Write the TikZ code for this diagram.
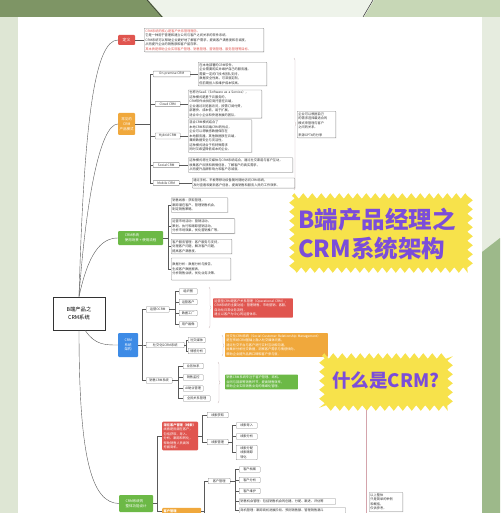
\documentclass[tikz,border=0pt]{standalone}
\usepackage{fontspec}
\setmainfont{Noto Sans CJK SC}
\usetikzlibrary{shadows,decorations.pathmorphing,decorations.pathreplacing}
\definecolor{bgDark}{HTML}{7E9565}
\definecolor{topGreen}{HTML}{C7D7B6}
\definecolor{topPale}{HTML}{EEF3EA}
\definecolor{sideGray}{HTML}{DEE6D4}
\definecolor{rightPale}{HTML}{E6ECDF}
\definecolor{rightGreen}{HTML}{9DB98A}
\definecolor{lineGray}{HTML}{5A5A5A}
\definecolor{boxGray}{HTML}{8A8A8A}
\definecolor{textGray}{HTML}{333333}
\definecolor{braceGray}{HTML}{C8B6B8}
\definecolor{crmRed}{HTML}{E0554F}
\definecolor{crmOrange}{HTML}{F0A83C}
\definecolor{crmGreen}{HTML}{6CB946}
\definecolor{crmBlue}{HTML}{3D8BE6}
\definecolor{burstYellow}{HTML}{F7E24B}
\definecolor{titlePurple}{HTML}{7B4DDA}
\definecolor{pinkLine}{HTML}{D4A4AC}
\newcommand{\smalltxt}{\fontsize{3.2}{4.5}\selectfont}
\newcommand{\hubtxt}{\fontsize{3.5}{4.7}\selectfont}
\begin{document}
\begin{tikzpicture}[x=1pt,y=-1pt]
\tikzstyle{link}=[draw=lineGray,line width=0.4pt]
\tikzstyle{lbl}=[draw=boxGray,fill=white,line width=0.35pt,rounded corners=0.5pt,inner sep=1.3pt,anchor=west,align=center,font=\smalltxt,text=textGray]
\tikzstyle{note}=[lbl,align=left,drop shadow={shadow xshift=0.7pt,shadow yshift=-0.7pt,opacity=0.25}]
\tikzstyle{cnote}=[lbl,align=left,draw=none,text=white]
\tikzstyle{hub}=[rounded corners=1pt,inner sep=1.5pt,anchor=west,text=white,font=\hubtxt]
\tikzstyle{burst}=[fill=burstYellow,decorate,decoration={zigzag,segment length=9pt,amplitude=2.8pt}]
\tikzstyle{brk}=[draw=braceGray,line width=0.4pt,decorate,decoration={brace,amplitude=2pt}]
\tikzstyle{title}=[text=titlePurple,font=\fontsize{23.5}{27}\selectfont\bfseries,inner sep=0pt]
\useasboundingbox (0,0) rectangle (500,513);

\fill[sideGray] (0,0) rectangle (500,513);
\fill[topGreen] (270,0) rectangle (500,17);
\fill[topPale] (148,0) -- (374,0) -- (364,17) -- (162,17) -- cycle;
\fill[bgDark] (0,0) -- (148,0) -- (163,17) -- (0,17) -- cycle;
\fill[rightPale] (482,17) rectangle (500,513);
\fill[rightGreen] (482,252) -- (500,238) -- (500,513) -- (482,513) -- cycle;
\draw[textGray,line width=0.5pt] (147,0) -- (162,17);
\draw[textGray,line width=0.5pt] (373,0) -- (363,17);
\fill[white] (18,17) rectangle (482,513);

\node[draw=black!80,line width=0.7pt,fill=white,minimum width=52pt,minimum height=33pt,align=center,font=\fontsize{5.3}{7.5}\selectfont] (root) at (79,313.5) {B端产品之\\CRM系统};

\node[hub,fill=crmRed,minimum width=17pt,minimum height=10pt,font=\fontsize{4}{5}\selectfont] (def) at (118,40) {定义};
\node[note,text width=117pt] (defTxt) at (144,40) {\textcolor{crmRed}{CRM系统的核心是客户关系管理理念。}\\
它是一种用于管理和建立公司与客户之间关系的软件系统。\\
CRM系统可以帮助企业更好地了解客户需求，提高客户满意度和忠诚度，\\
从而提升企业的销售额和客户留存率。\\
\textcolor{crmRed}{其本质是帮助企业实现客户管理、销售管理、营销管理、服务管理等目标。}};
\draw[link] (def.east) -- (defTxt.west);

\node[hub,fill=crmOrange,minimum width=17pt,minimum height=22pt,align=center] (mode) at (118,124) {常见的\\CRM\\产品模式};
\node[lbl,minimum width=37pt] (onp) at (153,74) {On-premise CRM};
\node[lbl,minimum width=25pt] (cloud) at (155,104) {Cloud CRM};
\node[lbl,minimum width=25pt] (hybrid) at (155,136) {Hybrid CRM};
\node[lbl,minimum width=26pt] (social) at (153,165) {Social CRM};
\node[lbl,minimum width=26pt] (mobile) at (153,183) {Mobile CRM};
\foreach \c in {onp,cloud,hybrid,social,mobile}
  \draw[link] (mode.east) -- ++(15,0) |- (\c.west);
\node[note,text width=66pt] (onpTxt) at (198,74) {在本地部署的CRM软件，\\
企业需要购买并维护自己的服务器，\\
需要一定的IT技术团队支持，\\
数据安全性高，可深度定制，\\
但前期投入和维护成本较高。};
\node[note,text width=71pt] (cloudTxt) at (188,104) {也称为SaaS（Software as a Service），\\
这种模式是基于云服务的，\\
CRM软件由供应商托管在云端，\\
企业通过浏览器访问，按需订阅付费，\\
部署快、成本低，易于扩展，\\
适合中小企业和快速发展的团队。};
\node[note,text width=61pt] (hybridTxt) at (188,136) {混合CRM模式结合了\\
本地CRM和云端CRM的优点，\\
企业可以将敏感数据保存在\\
本地服务器，其他数据放在云端，\\
兼顾数据安全与灵活性，\\
这种模式适合于有特殊需求\\
同时又希望降低成本的企业。};
\node[note,text width=102pt] (socialTxt) at (188,165) {这种模式将社交媒体与CRM系统结合，通过社交渠道与客户互动，\\
收集客户反馈和舆情信息，了解客户的真实需求，\\
从而提升品牌影响力和客户忠诚度。};
\node[note,text width=100pt] (mobileTxt) at (192,183) {通过手机、平板等移动设备随时随地访问CRM系统，\\
及时查看和更新客户信息，提高销售和服务人员的工作效率。};
\foreach \c in {onp,cloud,hybrid,social,mobile}
  \draw[link] (\c.east) -- (\c Txt.west);
\draw[brk] (294,58) -- (294,190);
\node[note,text width=36pt] (modeSum) at (297,124.5) {企业可以根据自己\\的需求选择最适合的\\模式来管理与客户\\之间的关系。\\[3pt]来源GPT4的分享};

\node[hub,fill=crmGreen,minimum width=45pt,minimum height=14pt,align=left] (scene) at (118,238) {CRM系统\\使用场景 + 使用流程};
\node[note,text width=54pt] (s1) at (171,205) {销售线索：获取管理，\\跟踪潜在客户、管理销售机会，\\制定销售策略。};
\node[note,text width=61pt] (s2) at (171,226) {运营市场活动：营销活动，\\策划、执行和跟踪营销活动，\\分析市场效果，优化营销推广等。};
\node[note,text width=58pt] (s3) at (171,246.5) {客户服务管理：客户服务与支持，\\处理客户问题，解决客户问题，\\提高客户满意度。};
\node[note,text width=57pt,minimum height=22pt] (s4) at (171,269) {数据分析：数据分析与报告，\\生成客户数据报表，\\分析销售业绩，优化业务决策。};
\foreach \c in {s1,s2,s3,s4}
  \draw[link] (scene.east) -- ++(5,0) |- (\c.west);

\node[hub,fill=crmBlue,minimum width=20pt,minimum height=24pt,align=center] (arch) at (118,345) {CRM\\系统\\架构};
\node[lbl,minimum width=23pt] (op) at (146,309.5) {运营OCRM};
\node[lbl,minimum width=38pt] (sc) at (146,345) {社交化SCRM系统};
\node[lbl,minimum width=26pt] (sale) at (146,380.5) {销售CRM系统};
\foreach \c in {op,sc,sale}
  \draw[link] (arch.east) -- ++(4,0) |- (\c.west);
\node[lbl,minimum width=18pt] (op1) at (179,291.5) {组织图};
\node[lbl,minimum width=18pt] (op2) at (179,302) {运营客户};
\node[lbl,minimum width=18pt] (op3) at (179,313) {数据工厂};
\node[lbl,minimum width=18pt] (op4) at (179,324.5) {用户画像};
\foreach \c in {op1,op2,op3,op4}
  \draw[link] (op.east) -- ++(6,0) |- (\c.west);
\draw[brk] (209,287) -- (209,328);
\node[cnote,fill=crmRed,text width=77pt] (opTxt) at (213,308) {运营型CRM是客户关系管理（Operational CRM），\\
CRM系统的主要功能：管理销售、市场营销、客服，\\
自动化日常业务流程，\\
建立以客户为中心的运营体系。};
\node[lbl,minimum width=17pt] (sc1) at (188,340) {社交媒体};
\node[lbl,minimum width=17pt] (sc2) at (188,351) {情感分析};
\foreach \c in {sc1,sc2}
  \draw[link] (sc.east) -- ++(2,0) |- (\c.west);
\draw[brk] (222,335) -- (222,356);
\node[cnote,fill=crmOrange,text width=100pt] (scTxt) at (225,345) {社交化CRM系统（Social Customer Relationship Management）\\
是在传统CRM基础上融入社交媒体元素，\\
通过社交平台与客户进行实时互动和沟通，\\
收集并分析社交数据，洞察客户需求与情感倾向，\\
帮助企业提升品牌口碑和客户参与度。};
\node[lbl,minimum width=20pt] (sa1) at (183,366) {业务体系};
\node[lbl,minimum width=20pt] (sa2) at (183,377.5) {销售监控};
\node[lbl,minimum width=20pt] (sa3) at (183,388.5) {AI助业管理};
\node[lbl,minimum width=27pt] (sa4) at (183,398.5) {全民关系管理};
\foreach \c in {sa1,sa2,sa3,sa4}
  \draw[link] (sale.east) -- ++(6,0) |- (\c.west);
\draw[brk] (218,362) -- (218,403);
\node[cnote,fill=crmGreen,text width=70pt] (saTxt) at (225,382) {销售CRM系统专注于客户管理、商机、\\
合同与回款等销售环节，提高销售效率，\\
帮助企业实现销售业务的精细化管理。};

\node[hub,fill=crmGreen,minimum width=34pt,minimum height=17pt,align=left] (func) at (119,503.5) {CRM系统的\\整体功能设计};
\node[hub,fill=crmRed,text width=33pt,align=left,font=\smalltxt] (lead) at (162,436) {\textbf{潜在客户管理（线索）}\\线索是指潜在客户，\\包括获取、导入、\\分析、跟踪和转化，\\帮助销售人员高效\\挖掘商机。};
\node[hub,fill=crmOrange,text width=36pt,align=left,font=\smalltxt] (cust) at (162,511) {\textbf{客户管理}};
\foreach \c in {lead,cust}
  \draw[link] (func.east) -- ++(4,0) |- (\c.west);
\node[lbl,minimum width=21pt] (l1) at (207,415) {线索获取};
\node[lbl,minimum width=21pt] (l2) at (207,442) {线索管理};
\foreach \c in {l1,l2}
  \draw[link] (lead.east) -- ++(4,0) |- (\c.west);
\node[lbl,minimum width=21pt] (l21) at (236,425.5) {线索导入};
\node[lbl,minimum width=21pt] (l22) at (236,436.5) {线索分析};
\node[lbl,minimum width=21pt,align=left] (l23) at (236,452.5) {线索分配\\线索跟踪\\转化};
\foreach \c in {l21,l22,l23}
  \draw[link] (l2.east) -- ++(4,0) |- (\c.west);
\node[lbl,minimum width=22pt] (c1) at (208,481) {客户管理};
\coordinate (custEnd) at (204,520);
\draw[link] (cust.east) -- ++(3,0) |- (c1.west);
\draw[link] (cust.east) -- ++(3,0) |- (custEnd);
\node[lbl,minimum width=21pt] (c11) at (239,469.5) {客户档案};
\node[lbl,minimum width=21pt] (c12) at (239,480) {客户分析};
\node[lbl,minimum width=21pt] (c13) at (239,491) {客户维护};
\node[lbl,text width=94pt,align=left] (c14) at (239,501.5) {销售机会管理：包括销售机会的创建、分配、跟进、评估等};
\node[lbl,text width=104pt,align=left] (c15) at (239,510.5) {商机管理：跟踪商机进展阶段、预测销售额、管理销售漏斗};
\foreach \c in {c11,c12,c13,c14,c15}
  \draw[link] (c1.east) -- ++(5,0) |- (\c.west);

\draw[link] (root.north) .. controls (84,120) and (95,40) .. (def.west);
\draw[link] (root.north) .. controls (86,200) and (100,124) .. (mode.west);
\draw[link] (root.north) .. controls (88,255) and (100,238) .. (scene.west);
\draw[link] (root.290) .. controls (95,345) and (105,345) .. (arch.west);
\draw[link] (root.south) .. controls (79,460) and (92,503) .. (func.west);

\fill[burst] (292,196) rectangle (470,270);
\node[title,anchor=west] (titleA) at (298,220) {B端产品经理之};
\node[title,anchor=west] (titleB) at (298,249) {CRM系统架构};
\fill[burst] (322,356) rectangle (450,408);
\node[title,font=\fontsize{18.5}{22}\selectfont\bfseries] (what) at (386,381) {什么是CRM?};

\node[note,text width=31pt] (endNote) at (369,502) {以上整体\\只是简单的举例\\和概括，\\仅供参考。};
\coordinate (whatFoot) at (366,410);
\draw[pinkLine,line width=0.5pt] (whatFoot) -- (whatFoot |- custEnd);
\end{tikzpicture}
\end{document}
